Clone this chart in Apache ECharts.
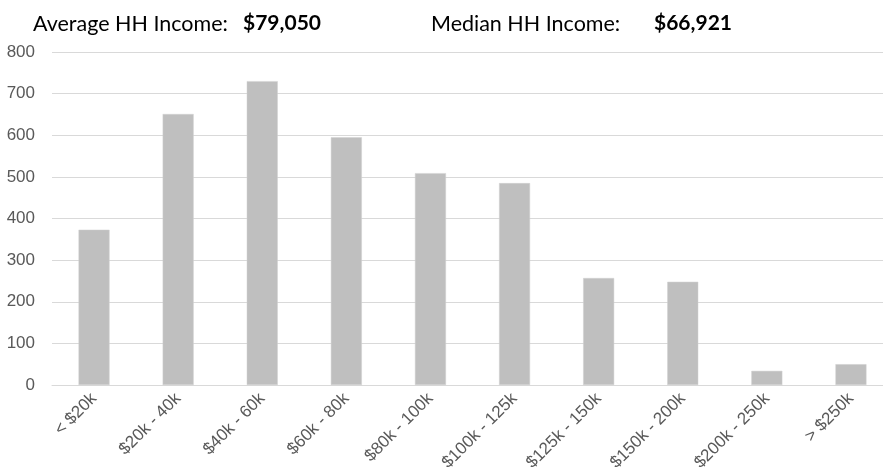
<!DOCTYPE html>
<html>
<head>
<meta charset="utf-8">
<script src="https://cdn.jsdelivr.net/npm/echarts@6/dist/echarts.min.js"></script>
<style>
html,body{margin:0;padding:0;background:#fff;}
#chart{width:883px;height:468px;}
</style>
</head>
<body>
<div id="chart"></div>
<script>
var categories = ['< $20k', '$20k - 40k', '$40k - 60k', '$60k - 80k', '$80k - 100k', '$100k - 125k', '$125k - 150k', '$150k - 200k', '$200k - 250k', '> $250k'];
var households = [373, 651, 730, 595, 509, 485, 257, 248, 34, 50];
var yTicks = { min: 0, max: 800, interval: 100 };
var headerLabels = ['Average HH Income:', '$79,050', 'Median HH Income:', '$66,921'];

var axisFont = "'Liberation Sans Narrow', 'Arial Narrow', 'Liberation Sans', Arial, sans-serif";
var titleFont = "Lato, 'Open Sans', sans-serif";

var chart = echarts.init(document.getElementById('chart'), null, { renderer: 'canvas' });
chart.setOption({
  backgroundColor: '#ffffff',
  animation: false,
  title: [
    { text: headerLabels[0], left: 28, top: 8, textStyle: { fontFamily: titleFont, fontSize: 21.5, fontWeight: 'normal', color: '#000' } },
    { text: headerLabels[1], left: 238, top: 8, textStyle: { fontFamily: titleFont, fontSize: 21, fontWeight: 'bold', color: '#000' } },
    { text: headerLabels[2], left: 426, top: 8, textStyle: { fontFamily: titleFont, fontSize: 21.5, fontWeight: 'normal', color: '#000' } },
    { text: headerLabels[3], left: 649, top: 8, textStyle: { fontFamily: titleFont, fontSize: 21, fontWeight: 'bold', color: '#000' } }
  ],
  grid: { left: 52, top: 52, width: 841, height: 333, containLabel: false, outerBoundsMode: 'none' },
  xAxis: {
    type: 'category',
    data: categories,
    axisTick: { show: false },
    axisLine: { show: true, lineStyle: { color: '#d9d9d9', width: 1 } },
    axisLabel: {
      interval: 0,
      rotate: 45,
      margin: 11,
      color: '#595959',
      fontFamily: axisFont,
      fontSize: 17
    }
  },
  yAxis: {
    type: 'value',
    min: yTicks.min,
    max: yTicks.max,
    interval: yTicks.interval,
    axisLine: { show: false },
    axisTick: { show: false },
    splitLine: { lineStyle: { color: '#d9d9d9', width: 1 } },
    axisLabel: {
      margin: 17,
      color: '#595959',
      fontFamily: axisFont,
      fontSize: 17
    }
  },
  series: [{
    type: 'bar',
    data: households,
    barWidth: 31,
    itemStyle: { color: '#bfbfbf', borderColor: '#d0d0d0', borderWidth: 0.5 }
  }]
});
</script>
</body>
</html>
